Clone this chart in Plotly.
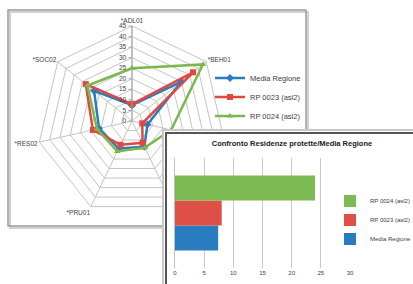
import plotly.graph_objects as go

W, H = 413, 284

# ---------------- data ----------------
radar_categories = ["*ADL01", "*BEH01", "*DOL01", "*NUT01", "*PRU01", "*RES02", "*SOC02"]
# labels of the two spokes hidden behind the bar-chart panel are not visible in the original
radar_labels_shown = ["*ADL01", "*BEH01", "", "", "*PRU01", "*RES02", "*SOC02"]
media_regione = [7.5, 30, 7.5, 13.5, 14.5, 16, 23]
rp_0023 = [8, 37, 5, 11.5, 12.5, 19, 28]
rp_0024 = [25, 43, 19, 14, 16, 17, 27]
radial_ticks = [0, 5, 10, 15, 20, 25, 30, 35, 40, 45]

series_names = ["Media Regione", "RP 0023 (asl2)", "RP 0024 (asl2)"]
bar_category = ["Residenze"]
bar_values = [7.4, 8.0, 24.0]  # Media Regione, RP 0023, RP 0024
bar_ticks = [0, 5, 10, 15, 20, 25, 30]

bar_title = "Confronto Residenze protette/Media Regione"

colors = ["#2b7bc0", "#e0483f", "#7ab84a"]
bar_colors = ["#2a7cc1", "#de5047", "#7cbb52"]
symbols = ["diamond", "square", "triangle-up"]

FONT = "Liberation Sans Narrow, Arial Narrow, Liberation Sans, Arial, sans-serif"


def px(x):
    return x / W


def py(y):
    return 1 - y / H


fig = go.Figure()

# ---------------- radar ----------------
for name, vals, col, sym in zip(series_names, [media_regione, rp_0023, rp_0024], colors, symbols):
    fig.add_trace(go.Scatterpolar(
        r=vals + vals[:1],
        theta=radar_categories + radar_categories[:1],
        mode="lines+markers",
        name=name,
        line=dict(color=col, width=2.5),
        marker=dict(symbol=sym, size=6, color=col),
        legend="legend",
        cliponaxis=False,
    ))

# ---------------- bars ----------------
for name, val, col in zip(series_names, bar_values, bar_colors):
    fig.add_trace(go.Bar(
        x=[val], y=bar_category, orientation="h",
        name=name, marker=dict(color=col, line=dict(width=0)),
        legend="legend2",
        xaxis="x", yaxis="y",
    ))

cx, cy, R = 132, 121, 95

fig.update_layout(
    width=W, height=H,
    margin=dict(l=0, r=0, t=0, b=0, autoexpand=False),
    paper_bgcolor="white",
    plot_bgcolor="white",
    font=dict(family=FONT, size=7, color="#404040"),
    polar=dict(
        domain=dict(x=[px(cx - R), px(cx + R)], y=[py(cy + R), py(cy - R)]),
        bgcolor="rgba(0,0,0,0)",
        gridshape="linear",
        angularaxis=dict(
            direction="clockwise", rotation=90,
            tickmode="array", tickvals=radar_categories, ticktext=radar_labels_shown,
            showline=True, linecolor="#c4c4c4", linewidth=1,
            gridcolor="#c4c4c4", ticks="",
            tickfont=dict(size=6.5, color="#404040", family=FONT),
        ),
        radialaxis=dict(
            range=[0, 45], tickvals=radial_ticks, angle=90,
            side="counterclockwise",
            showline=True, linecolor="#a0a0a0", linewidth=1,
            gridcolor="#c4c4c4", ticks="outside", ticklen=3, tickcolor="#a0a0a0",
            tickfont=dict(size=6.5, color="#404040", family=FONT),
            tickangle=90,
        ),
    ),
    xaxis=dict(
        domain=[px(175), px(350)], range=[0, 30], tickvals=bar_ticks,
        showgrid=True, gridcolor="#c8c8c8", gridwidth=1,
        zeroline=False, showline=False, ticks="",
        tickfont=dict(size=6, color="#404040", family=FONT),
        fixedrange=True,
    ),
    yaxis=dict(
        domain=[py(268), py(158)],
        showticklabels=False, showgrid=False, zeroline=False,
        showline=True, linecolor="#c0c0c0", linewidth=1, ticks="",
    ),
    barmode="group", bargap=0.32, bargroupgap=0,
    title=dict(
        text="<b>" + bar_title + "</b>",
        x=px(292), xanchor="center", y=py(143), yanchor="middle",
        font=dict(size=7.5, color="#202020", family=FONT),
    ),
    legend=dict(
        x=px(210), xanchor="left", y=py(97), yanchor="middle",
        bgcolor="rgba(0,0,0,0)", font=dict(size=7.5, color="#404040", family=FONT),
        itemwidth=30, traceorder="normal",
    ),
    legend2=dict(
        x=px(330), xanchor="left", y=py(220), yanchor="middle",
        bgcolor="rgba(0,0,0,0)", font=dict(size=6, color="#404040", family=FONT),
        traceorder="reversed", itemwidth=30,
    ),
    showlegend=True,
    shapes=[
        # radar frame shadow + frame
        dict(type="rect", xref="paper", yref="paper", layer="below",
             x0=px(10), x1=px(308), y0=py(228), y1=py(12),
             line=dict(color="#d0d0d0", width=2), fillcolor="rgba(0,0,0,0)"),
        dict(type="rect", xref="paper", yref="paper", layer="below",
             x0=px(8), x1=px(306), y0=py(226), y1=py(10),
             line=dict(color="#9a9a9a", width=1.5), fillcolor="rgba(0,0,0,0)"),
        # bar chart panel (covers the radar below it)
        dict(type="rect", xref="paper", yref="paper", layer="below",
             x0=px(163), x1=px(430), y0=py(300), y1=py(130),
             line=dict(color="#c8c8c8", width=2), fillcolor="white"),
        dict(type="rect", xref="paper", yref="paper", layer="below",
             x0=px(166), x1=px(430), y0=py(300), y1=py(133),
             line=dict(color="#555555", width=2), fillcolor="white"),
    ],
)

post = """
document.documentElement.style.margin = '0';
document.documentElement.style.padding = '0';
document.body.style.margin = '0';
document.body.style.padding = '0';
document.body.style.overflow = 'hidden';
var gd = document.getElementById('{plot_id}');
var paper = gd.querySelector('svg.main-svg');
var polar = paper.querySelector('g.polarlayer');
var below = paper.querySelector('g.layer-below');
if (polar && below) { paper.insertBefore(polar, below); }
"""

fig.write_html("out.html", post_script=post, config={"displayModeBar": False})
